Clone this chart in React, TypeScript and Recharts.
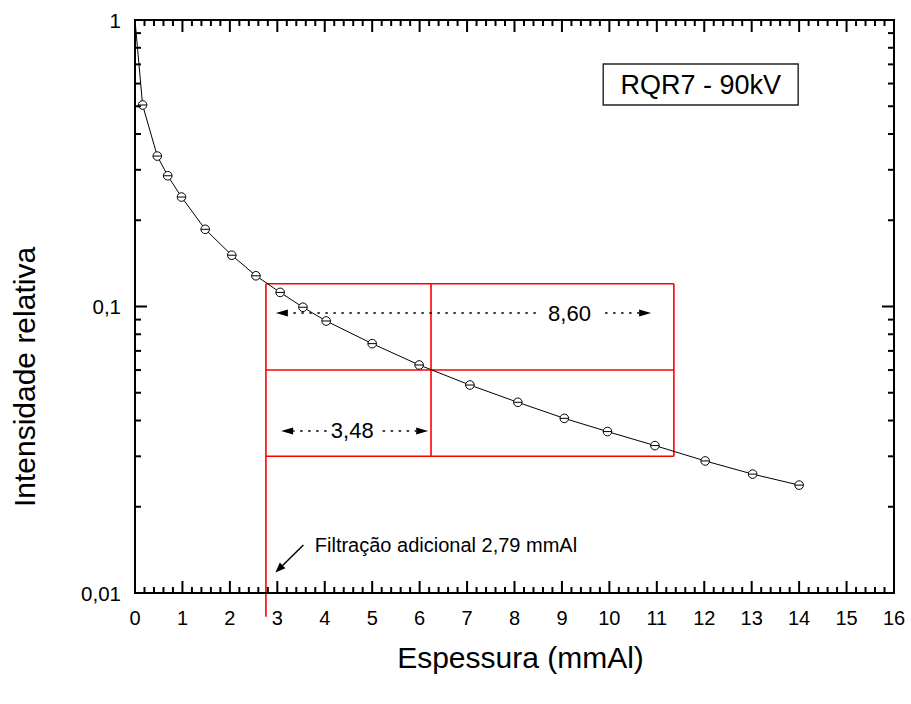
import React from 'react';
import { LineChart, Line, XAxis, YAxis, ReferenceLine, ReferenceArea, ReferenceDot } from 'recharts';

// attenuation curve
const thickness = [0, 0.16, 0.47, 0.69, 0.98, 1.48, 2.04, 2.55, 3.06, 3.54, 4.03, 5.0, 5.99, 7.06, 8.07, 9.05, 9.96, 10.96, 12.02, 13.02, 14.0];
const intensity = [1, 0.505, 0.335, 0.286, 0.241, 0.186, 0.151, 0.128, 0.112, 0.0994, 0.089, 0.0742, 0.0625, 0.0532, 0.0463, 0.0407, 0.0366, 0.0327, 0.0289, 0.026, 0.0238];

const xMajorTicks = [0, 1, 2, 3, 4, 5, 6, 7, 8, 9, 10, 11, 12, 13, 14, 15, 16];
const xTickLabels = ['0', '1', '2', '3', '4', '5', '6', '7', '8', '9', '10', '11', '12', '13', '14', '15', '16'];
const yMajorTicks = [0.01, 0.1, 1];
const yTickLabels = ['0,01', '0,1', '1'];

// red construction lines (half value layers)
const filtrationX = 2.76;
const boxColumns = [2.76, 6.24, 11.36];
const hvlLevels = [0.12, 0.06, 0.03];
const filtrationBottom = 0.00826;

// dotted dimension arrows, head at "to"
const dimArrows = [
  { from: 8.45, to: 2.97, y: 0.0949 },
  { from: 9.91, to: 10.88, y: 0.0949 },
  { from: 4.04, to: 3.08, y: 0.0368 },
  { from: 5.22, to: 6.18, y: 0.0368 },
];
const dimLabels = [
  { x: 9.16, y: 0.0949, text: '8,60' },
  { x: 4.58, y: 0.0368, text: '3,48' },
];
const pointer = { x1: 3.55, y1: 0.0147, x2: 2.96, y2: 0.0118 };
const pointerNote = { x: 3.79, y: 0.0147, text: 'Filtração adicional 2,79 mmAl' };
const legendBox = { x1: 9.87, x2: 13.98, y1: 0.505, y2: 0.702, text: 'RQR7 - 90kV' };

const curve = thickness.map((x, i) => ({ x, y: intensity[i] }));

const xMinor: number[] = [];
for (let i = 0; i <= 80; i++) xMinor.push(Math.round(i * 20) / 100);
const yMinor: number[] = [];
[0.01, 0.1].forEach(d => {
  for (let k = 1; k <= 9; k++) yMinor.push(Number((d * k).toPrecision(3)));
});
yMinor.push(1);

const FONT = '"Liberation Sans", Arial, sans-serif';
const axisStyle = { stroke: '#000', strokeWidth: 2, strokeLinecap: 'square' as const };

const isXMajor = (v: number) => Math.abs(v - Math.round(v)) < 1e-6;
const isYMajor = (v: number) => Math.abs(Math.log10(v) - Math.round(Math.log10(v))) < 1e-6;

const BottomTick = (props: any) => {
  const { x, y, payload } = props;
  const v = payload.value;
  const major = isXMajor(v);
  const idx = xMajorTicks.findIndex(t => Math.abs(t - v) < 1e-6);
  return (
    <g>
      <line x1={x} y1={y} x2={x} y2={y - (major ? 12 : 6)} stroke="#000" strokeWidth={2} />
      {major && idx >= 0 && (
        <text x={x} y={y + 25} textAnchor="middle" dominantBaseline="central" fontSize={20} fill="#000" fontFamily={FONT}>
          {xTickLabels[idx]}
        </text>
      )}
    </g>
  );
};

const TopTick = (props: any) => {
  const { x, y, payload } = props;
  const major = isXMajor(payload.value);
  return <line x1={x} y1={y} x2={x} y2={y + (major ? 12 : 6)} stroke="#000" strokeWidth={2} />;
};

const LeftTick = (props: any) => {
  const { x, y, payload } = props;
  const v = payload.value;
  const major = isYMajor(v);
  const idx = yMajorTicks.findIndex(t => Math.abs(t - v) < 1e-9);
  return (
    <g>
      <line x1={x} y1={y} x2={x + (major ? 12 : 6)} y2={y} stroke="#000" strokeWidth={2} />
      {major && idx >= 0 && (
        <text x={x - 14} y={y} textAnchor="end" dominantBaseline="central" fontSize={20.5} fill="#000" fontFamily={FONT}>
          {yTickLabels[idx]}
        </text>
      )}
    </g>
  );
};

const RightTick = (props: any) => {
  const { x, y, payload } = props;
  const major = isYMajor(payload.value);
  return <line x1={x} y1={y} x2={x - (major ? 12 : 6)} y2={y} stroke="#000" strokeWidth={2} />;
};

const arrowShape = (dotted: boolean, headLen: number, headHalf: number) => (props: any) => {
  const { x1, y1, x2, y2 } = props;
  const len = Math.hypot(x2 - x1, y2 - y1) || 1;
  const ux = (x2 - x1) / len;
  const uy = (y2 - y1) / len;
  const bx = x2 - ux * headLen;
  const by = y2 - uy * headLen;
  return (
    <g>
      <line
        x1={x1}
        y1={y1}
        x2={bx}
        y2={by}
        stroke="#000"
        strokeWidth={1.5}
        strokeDasharray={dotted ? '2.5 5.5' : undefined}
      />
      <polygon
        points={`${x2},${y2} ${bx - uy * headHalf},${by + ux * headHalf} ${bx + uy * headHalf},${by - ux * headHalf}`}
        fill="#000"
      />
    </g>
  );
};

const textShape = (text: string, anchor: 'start' | 'middle', size: number) => (props: any) => (
  <text x={props.cx} y={props.cy} textAnchor={anchor} dominantBaseline="central" fontSize={size} fill="#000" fontFamily={FONT}>
    {text}
  </text>
);

const Marker = (props: any) => {
  const { cx, cy, index } = props;
  if (index === 0) return <g key={`dot-${index}`} />;
  return (
    <g key={`dot-${index}`}>
      <circle cx={cx} cy={cy} r={4.3} fill="#fff" stroke="#000" strokeWidth={1} />
      <line x1={cx - 4.3} y1={cy} x2={cx + 4.3} y2={cy} stroke="#000" strokeWidth={1} />
    </g>
  );
};

const XTitle = (props: any) => {
  const vb = props.viewBox || { x: 135, y: 593, width: 759 };
  return (
    <text x={vb.x + vb.width / 2 + 6} y={vb.y + 75} textAnchor="middle" fontSize={30} fill="#000" fontFamily={FONT}>
      Espessura (mmAl)
    </text>
  );
};

const YTitle = () => (
  <text x={35} y={377} transform="rotate(-90, 35, 377)" textAnchor="middle" fontSize={30} fill="#000" fontFamily={FONT}>
    Intensidade relativa
  </text>
);

const red = { stroke: '#ff0000', strokeWidth: 1.6 };

export default function App() {
  return (
    <div style={{ position: 'absolute', left: 0, top: 0, width: 911, height: 704, background: '#fff', fontFamily: FONT }}>
      <LineChart width={911} height={704} data={curve} margin={{ top: 19, right: 16, bottom: 0, left: 0 }}>
        <XAxis
          dataKey="x"
          type="number"
          domain={[0, 16]}
          ticks={xMinor}
          interval={0}
          tickSize={0}
          tickMargin={0}
          tickLine={false}
          tick={BottomTick}
          axisLine={axisStyle}
          height={111}
          allowDataOverflow
          label={{ content: XTitle }}
        />
        <XAxis
          xAxisId="top"
          dataKey="x"
          orientation="top"
          type="number"
          domain={[0, 16]}
          ticks={xMinor}
          interval={0}
          tickSize={0}
          tickMargin={0}
          tickLine={false}
          tick={TopTick}
          axisLine={axisStyle}
          height={1}
          allowDataOverflow
        />
        <YAxis
          type="number"
          scale="log"
          domain={[0.01, 1]}
          ticks={yMinor}
          interval={0}
          tickSize={0}
          tickMargin={0}
          tickLine={false}
          tick={LeftTick}
          axisLine={axisStyle}
          width={135}
          allowDataOverflow
          label={{ content: YTitle }}
        />
        <YAxis
          yAxisId="right"
          orientation="right"
          type="number"
          scale="log"
          domain={[0.01, 1]}
          ticks={yMinor}
          interval={0}
          tickSize={0}
          tickMargin={0}
          tickLine={false}
          tick={RightTick}
          axisLine={axisStyle}
          width={1}
          allowDataOverflow
        />

        {/* invisible series so the mirrored frame axes get drawn */}
        <Line
          xAxisId="top"
          yAxisId="right"
          type="linear"
          dataKey="y"
          stroke="none"
          dot={false}
          activeDot={false}
          isAnimationActive={false}
        />

        <ReferenceLine
          segment={[{ x: filtrationX, y: hvlLevels[0] }, { x: filtrationX, y: filtrationBottom }]}
          {...red}
          ifOverflow="visible"
        />
        {boxColumns.slice(1).map(cx => (
          <ReferenceLine
            key={`col-${cx}`}
            segment={[{ x: cx, y: hvlLevels[0] }, { x: cx, y: hvlLevels[2] }]}
            {...red}
            ifOverflow="visible"
          />
        ))}
        {hvlLevels.map(lv => (
          <ReferenceLine
            key={`row-${lv}`}
            segment={[{ x: boxColumns[0], y: lv }, { x: boxColumns[2], y: lv }]}
            {...red}
            ifOverflow="visible"
          />
        ))}

        <Line
          type="linear"
          dataKey="y"
          stroke="#000"
          strokeWidth={1}
          dot={Marker}
          activeDot={false}
          isAnimationActive={false}
        />

        {dimArrows.map((a, i) => (
          <ReferenceLine
            key={`dim-${i}`}
            segment={[{ x: a.from, y: a.y }, { x: a.to, y: a.y }]}
            shape={arrowShape(true, 12, 3.5)}
            ifOverflow="visible"
          />
        ))}
        {dimLabels.map(l => (
          <ReferenceDot key={l.text} x={l.x} y={l.y} r={0} ifOverflow="visible" shape={textShape(l.text, 'middle', 22)} />
        ))}
        <ReferenceLine
          segment={[{ x: pointer.x1, y: pointer.y1 }, { x: pointer.x2, y: pointer.y2 }]}
          shape={arrowShape(false, 10, 4)}
          ifOverflow="visible"
        />
        <ReferenceDot
          x={pointerNote.x}
          y={pointerNote.y}
          r={0}
          ifOverflow="visible"
          shape={textShape(pointerNote.text, 'start', 20)}
        />
        <ReferenceArea
          x1={legendBox.x1}
          x2={legendBox.x2}
          y1={legendBox.y1}
          y2={legendBox.y2}
          fill="#fff"
          fillOpacity={1}
          stroke="#222"
          strokeWidth={1.4}
          ifOverflow="visible"
          label={{ value: legendBox.text, position: 'center', fill: '#000', fontSize: 27, fontFamily: FONT }}
        />
      </LineChart>
    </div>
  );
}
